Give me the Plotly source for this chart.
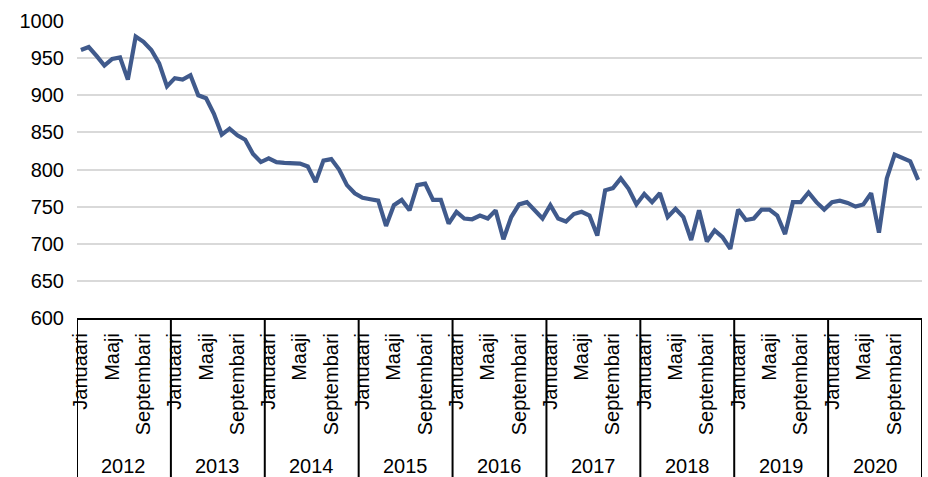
import plotly.graph_objects as go

years = ["2012", "2013", "2014", "2015", "2016", "2017", "2018", "2019", "2020"]
month_labels = ["Januaari", "Maaji", "Septembari"]
month_label_pos = [0, 4, 8]  # month index within year that carries a label

values = [
    961, 965, 953, 940, 949, 951, 921, 979, 972, 961, 943, 912,
    923, 921, 927, 900, 896, 875, 847, 855, 846, 840, 821, 810,
    815, 810, 809, 809, 808, 804, 783, 812, 814, 800, 779, 768,
    762, 760, 758, 724, 752, 759, 745, 779, 781, 759, 759, 727,
    743, 734, 733, 738, 734, 745, 706, 736, 753, 756, 744, 734,
    752, 734, 730, 740, 743, 738, 711, 772, 775, 788, 774, 753,
    767, 756, 768, 736, 747, 736, 705, 745, 703, 718, 709, 693,
    746, 732, 734, 746, 746, 738, 713, 756, 756, 769, 756, 746,
    756, 758, 755, 750, 753, 768, 715, 788, 820, 816, 811, 786,
]

idx = list(range(len(values)))
tickvals = [y * 12 + m for y in range(len(years)) for m in month_label_pos]
ticktext = [month_labels[k] for y in range(len(years)) for k in range(len(month_label_pos))]

font = dict(family="Liberation Sans, Arial, sans-serif", size=20, color="#000000")

fig = go.Figure()
fig.add_trace(go.Scatter(
    x=idx, y=values, mode="lines",
    line=dict(color="#405A8C", width=4.2),
    hoverinfo="skip",
))

shapes = []
for b in range(len(years) + 1):
    xb = b * 12 - 0.5
    shapes.append(dict(type="line", xref="x", yref="paper", x0=xb, x1=xb, y0=0, y1=-0.54,
                       line=dict(color="#000000", width=2)))

annotations = []
for k, yr in enumerate(years):
    annotations.append(dict(x=k * 12 + 5.5, xref="x", y=-0.4983, yref="paper",
                            text=yr, showarrow=False, xanchor="center", yanchor="middle",
                            font=font))

fig.update_layout(
    width=928, height=477,
    margin=dict(l=77, r=6, t=21, b=159),
    paper_bgcolor="white", plot_bgcolor="white",
    showlegend=False,
    font=font,
    shapes=shapes,
    annotations=annotations,
    xaxis=dict(
        range=[-0.5, len(values) - 0.5],
        tickmode="array", tickvals=tickvals, ticktext=ticktext,
        tickangle=-90, ticks="", showgrid=False, zeroline=False,
        showline=True, linecolor="#000000", linewidth=2,
        tickfont=font, ticklabelstandoff=5,
    ),
    yaxis=dict(
        range=[600, 1000], dtick=50, tick0=600,
        showgrid=True, gridcolor="#D9D9D9", gridwidth=1.5,
        zeroline=False, showline=False, ticks="",
        tickfont=font, ticklabelstandoff=12,
    ),
)

fig.write_html(
    "out.html",
    config={"displayModeBar": False},
    post_script="document.body.style.margin='0';document.body.style.padding='0';document.body.style.overflow='hidden';",
)
